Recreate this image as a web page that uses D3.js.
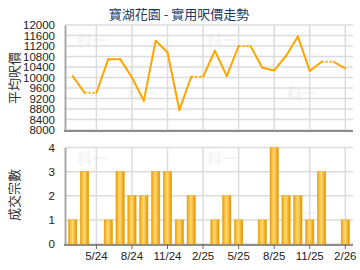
<!DOCTYPE html>
<html>
<head>
<meta charset="utf-8">
<script src="https://cdn.jsdelivr.net/npm/d3@7"></script>
<style>
body { margin: 0; background: #fff; }
text { font-family: "Liberation Sans", Arial, sans-serif; }
.cjk { font-family: "Noto Sans CJK TC", "Noto Sans CJK SC", sans-serif; }
</style>
</head>
<body>
<div id="chart"></div>
<script>
// months 3/24 .. 2/26
var months = ["3/24","4/24","5/24","6/24","7/24","8/24","9/24","10/24","11/24","12/24",
  "1/25","2/25","3/25","4/25","5/25","6/25","7/25","8/25","9/25","10/25","11/25","12/25",
  "1/26","2/26"];
// average price per sq ft (null = no deal that month)
var prices = [10050, 9420, null, 10700, 10700, 10000, 9110, 11400, 10950, 8760,
  10030, null, 11020, 10050, 11200, null, 10370, 10270, 10820, 11560, 10250, 10600,
  null, 10350];
// number of deals
var counts = [1, 3, 0, 1, 3, 2, 2, 3, 3, 1, 2, 0, 1, 2, 1, 0, 1, 4, 2, 2, 1, 3, 0, 1];
var tickMonths = ["5/24","8/24","11/24","2/25","5/25","8/25","11/25","2/26"];
var priceTicks = [8000,8400,8800,9200,9600,10000,10400,10800,11200,11600,12000];
var countTicks = [0,1,2,3,4];

var svgWidth = 360, svgHeight = 270;
var left = 65, right = 353;

var svg = d3.select("#chart").append("svg")
  .attr("width", svgWidth)
  .attr("height", svgHeight);

var defs = svg.append("defs");
var grad = defs.append("linearGradient").attr("id", "barGrad")
  .attr("x1", "0%").attr("x2", "100%").attr("y1", "0%").attr("y2", "0%");
grad.append("stop").attr("offset", "0%").attr("stop-color", "#e89a00");
grad.append("stop").attr("offset", "25%").attr("stop-color", "#fbc445");
grad.append("stop").attr("offset", "50%").attr("stop-color", "#ffd67a");
grad.append("stop").attr("offset", "75%").attr("stop-color", "#f6b52a");
grad.append("stop").attr("offset", "100%").attr("stop-color", "#e39000");

var x = d3.scaleBand().domain(months).range([left, right]).padding(0.3);
var xc = function(m) { return x(m) + x.bandwidth() / 2; };

var yTop = d3.scaleLinear().domain([8000, 12000]).range([130, 25]);
var yBot = d3.scaleLinear().domain([0, 4]).range([244, 147.5]);

// title
svg.append("text")
  .attr("class", "cjk")
  .attr("x", 179).attr("y", 15)
  .attr("text-anchor", "middle")
  .attr("dominant-baseline", "middle")
  .style("font-size", "13px")
  .attr("fill", "#1b3c6b")
  .text("寶湖花園 - 實用呎價走勢");

// watermarks
var marks = [[92, 42], [142, 95], [222, 42], [302, 95], [92, 160], [142, 215], [222, 160], [302, 215]];
svg.selectAll("text.wm").data(marks).enter().append("text")
  .attr("class", "wm cjk")
  .attr("x", d => d[0]).attr("y", d => d[1])
  .attr("text-anchor", "middle")
  .attr("dominant-baseline", "middle")
  .style("font-size", "15px")
  .style("font-weight", "bold")
  .attr("fill", "#f4f4f4")
  .text("科一");

function drawFrame(yScale, ticks, top, bottom) {
  var g = svg.append("g");
  // horizontal grid
  g.selectAll("line.h").data(ticks).enter().append("line")
    .attr("x1", left).attr("x2", right)
    .attr("y1", d => yScale(d)).attr("y2", d => yScale(d))
    .attr("stroke", "#dcdcdc").attr("stroke-width", 1.5);
  // vertical grid
  g.selectAll("line.v").data(tickMonths).enter().append("line")
    .attr("x1", d => xc(d)).attr("x2", d => xc(d))
    .attr("y1", top).attr("y2", bottom)
    .attr("stroke", "#dcdcdc").attr("stroke-width", 1.5);
  // left axis
  var axis = d3.axisLeft(yScale).tickValues(ticks).tickFormat(d3.format("d"))
    .tickSize(0).tickPadding(10);
  var a = svg.append("g").attr("transform", `translate(${left},0)`).call(axis);
  a.select(".domain").attr("stroke", "#a8a8a8").attr("stroke-width", 2);
  a.selectAll("text")
    .style("font-size", "11.5px")
    .style("font-family", "'Liberation Sans', Arial, sans-serif")
    .attr("fill", "#222");
  // bottom line
  svg.append("line")
    .attr("x1", left - 1).attr("x2", right)
    .attr("y1", bottom + 1).attr("y2", bottom + 1)
    .attr("stroke", "#8c8c8c").attr("stroke-width", 2);
}

drawFrame(yTop, priceTicks, 25, 130);
drawFrame(yBot, countTicks, 147.5, 244);

// bottom x axis ticks and labels
var bottomAxis = d3.axisBottom(x).tickValues(tickMonths).tickSize(5).tickPadding(3);
var xa = svg.append("g").attr("transform", "translate(0,244)").call(bottomAxis);
xa.select(".domain").remove();
xa.selectAll("line").attr("stroke", "#666");
xa.selectAll("text")
  .style("font-size", "11.5px")
  .style("font-family", "'Liberation Sans', Arial, sans-serif")
  .attr("fill", "#222");

// y labels
svg.append("text")
  .attr("class", "cjk")
  .attr("transform", "translate(15,78) rotate(-90)")
  .attr("text-anchor", "middle")
  .attr("dominant-baseline", "middle")
  .style("font-size", "13px")
  .attr("fill", "#333")
  .text("平均呎價");

svg.append("text")
  .attr("class", "cjk")
  .attr("transform", "translate(15,195) rotate(-90)")
  .attr("text-anchor", "middle")
  .attr("dominant-baseline", "middle")
  .style("font-size", "13px")
  .attr("fill", "#333")
  .text("成交宗數");

// bars
svg.selectAll("rect.bar").data(months).enter().append("rect")
  .attr("class", "bar")
  .attr("x", d => x(d))
  .attr("width", x.bandwidth())
  .attr("y", (d, i) => yBot(counts[i]))
  .attr("height", (d, i) => yBot(0) - yBot(counts[i]))
  .attr("fill", "url(#barGrad)")
  .attr("stroke", "#e8a000")
  .attr("stroke-width", 0.5);

// price line, carry last value forward over empty months (dotted)
var filled = [];
var last = null;
prices.forEach(function(p) {
  if (p != null) last = p;
  filled.push(last);
});

var segs = [];
for (var i = 1; i < months.length; i++) {
  segs.push({
    x1: xc(months[i - 1]), y1: yTop(filled[i - 1]),
    x2: xc(months[i]), y2: yTop(filled[i]),
    dotted: prices[i] == null
  });
}

svg.selectAll("line.seg").data(segs).enter().append("line")
  .attr("x1", d => d.x1).attr("y1", d => d.y1)
  .attr("x2", d => d.x2).attr("y2", d => d.y2)
  .attr("stroke", "#ffa500")
  .attr("stroke-width", 2)
  .attr("stroke-linecap", d => d.dotted ? "butt" : "round")
  .attr("stroke-dasharray", d => d.dotted ? "2,2" : null);
</script>
</body>
</html>
